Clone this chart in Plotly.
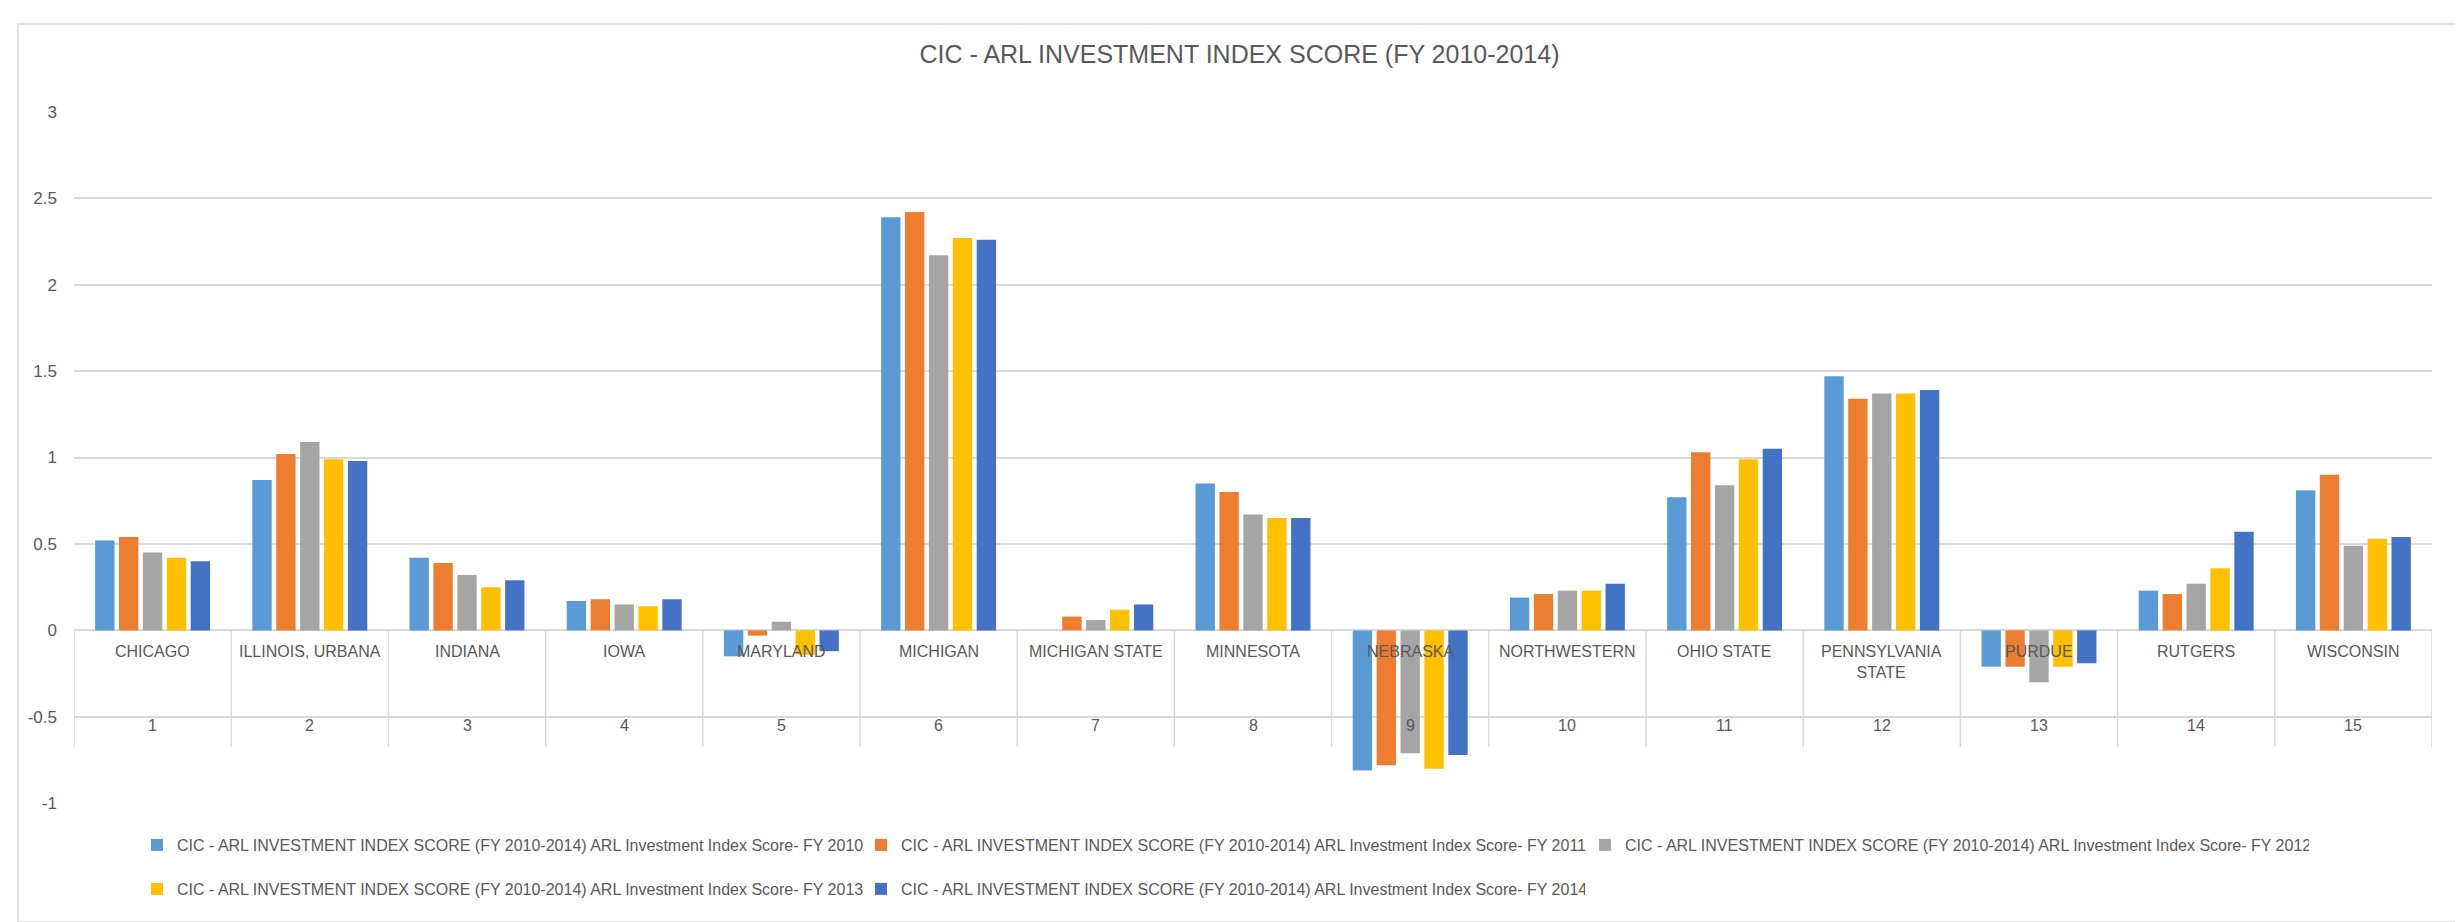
import plotly.graph_objects as go

FONT = "Liberation Sans, Arial, sans-serif"
TEXT_GREY = "#595959"
GRID = "#d9d9d9"

# --- data -----------------------------------------------------------------
schools = ["CHICAGO", "ILLINOIS, URBANA", "INDIANA", "IOWA", "MARYLAND", "MICHIGAN",
           "MICHIGAN STATE", "MINNESOTA", "NEBRASKA", "NORTHWESTERN", "OHIO STATE",
           "PENNSYLVANIA STATE", "PURDUE", "RUTGERS", "WISCONSIN"]
school_labels = ["CHICAGO", "ILLINOIS, URBANA", "INDIANA", "IOWA", "MARYLAND", "MICHIGAN",
                 "MICHIGAN STATE", "MINNESOTA", "NEBRASKA", "NORTHWESTERN", "OHIO STATE",
                 "PENNSYLVANIA<br>STATE", "PURDUE", "RUTGERS", "WISCONSIN"]
ranks = ["1", "2", "3", "4", "5", "6", "7", "8", "9", "10", "11", "12", "13", "14", "15"]

fy2010 = [0.52, 0.87, 0.42, 0.17, -0.15, 2.39, 0.00, 0.85, -0.81, 0.19, 0.77, 1.47, -0.21, 0.23, 0.81]
fy2011 = [0.54, 1.02, 0.39, 0.18, -0.03, 2.42, 0.08, 0.80, -0.78, 0.21, 1.03, 1.34, -0.21, 0.21, 0.90]
fy2012 = [0.45, 1.09, 0.32, 0.15, 0.05, 2.17, 0.06, 0.67, -0.71, 0.23, 0.84, 1.37, -0.30, 0.27, 0.49]
fy2013 = [0.42, 0.99, 0.25, 0.14, -0.14, 2.27, 0.12, 0.65, -0.80, 0.23, 0.99, 1.37, -0.21, 0.36, 0.53]
fy2014 = [0.40, 0.98, 0.29, 0.18, -0.12, 2.26, 0.15, 0.65, -0.72, 0.27, 1.05, 1.39, -0.19, 0.57, 0.54]

series_names = [
    "CIC - ARL INVESTMENT INDEX SCORE (FY 2010-2014) ARL Investment Index Score- FY 2010",
    "CIC - ARL INVESTMENT INDEX SCORE (FY 2010-2014) ARL Investment Index Score- FY 2011",
    "CIC - ARL INVESTMENT INDEX SCORE (FY 2010-2014) ARL Investment Index Score- FY 2012",
    "CIC - ARL INVESTMENT INDEX SCORE (FY 2010-2014) ARL Investment Index Score- FY 2013",
    "CIC - ARL INVESTMENT INDEX SCORE (FY 2010-2014) ARL Investment Index Score- FY 2014",
]
colors = ["#5b9bd5", "#ed7d31", "#a5a5a5", "#ffc000", "#4472c4"]

y_ticks = [-1, -0.5, 0, 0.5, 1, 1.5, 2, 2.5, 3]
y_tick_text = ["-1", "-0.5", "0", "0.5", "1", "1.5", "2", "2.5", "3"]

# --- page geometry (px) ---------------------------------------------------
W, H = 2463, 922
M_L, M_R, M_T, M_B = 66, 39, 103, 126
PLOT_W = W - M_L - M_R
PLOT_H = H - M_T - M_B


def px_x(px):
    return (px - M_L) / PLOT_W


def px_y(py):
    return (H - M_B - py) / PLOT_H


fig = go.Figure()
for i, (name, vals) in enumerate(zip(series_names, [fy2010, fy2011, fy2012, fy2013, fy2014])):
    fig.add_trace(go.Bar(
        x=schools, y=vals, name=name,
        marker=dict(color=colors[i], line=dict(width=0)),
        legend="legend" if i < 3 else "legend2",
    ))

# category "table" under the zero line
shapes = []
for i in range(len(schools) + 1):
    shapes.append(dict(type="line", xref="x", yref="y", x0=i - 0.5, x1=i - 0.5,
                       y0=0, y1=-0.675, line=dict(color=GRID, width=1.5), layer="below"))
# chart area border
shapes.append(dict(type="rect", xref="paper", yref="paper",
                   x0=px_x(10), x1=px_x(2453), y0=px_y(16), y1=px_y(914),
                   line=dict(color=GRID, width=1.5), layer="below"))

annotations = []
for s, lab, r in zip(schools, school_labels, ranks):
    annotations.append(dict(x=s, y=0, xref="x", yref="y", text=lab, showarrow=False,
                            yanchor="top", yshift=-11,
                            font=dict(family=FONT, size=16, color=TEXT_GREY)))
    annotations.append(dict(x=s, y=-0.5, xref="x", yref="y", text=r, showarrow=False,
                            yanchor="middle", yshift=-9,
                            font=dict(family=FONT, size=16, color=TEXT_GREY)))

legend_common = dict(
    orientation="h", xanchor="left", yanchor="middle", x=px_x(129),
    font=dict(family=FONT, size=16, color=TEXT_GREY),
    itemwidth=30, entrywidth=679, entrywidthmode="pixels",
    bgcolor="rgba(0,0,0,0)", itemclick=False,
)

fig.update_layout(
    width=W, height=H,
    margin=dict(l=M_L, r=M_R, t=M_T, b=M_B, autoexpand=False),
    paper_bgcolor="white", plot_bgcolor="white",
    title=dict(text="CIC - ARL INVESTMENT INDEX SCORE (FY 2010-2014)",
               x=0.5, xref="container", xanchor="center",
               y=1 - 46 / H, yref="container", yanchor="middle",
               font=dict(family=FONT, size=25, color=TEXT_GREY)),
    barmode="group", bargap=0.24, bargroupgap=0.19,
    xaxis=dict(type="category", range=[-0.5, len(schools) - 0.5],
               showticklabels=False, showgrid=False, zeroline=False, showline=False),
    yaxis=dict(range=[-1.004, 3.004], tickvals=y_ticks, ticktext=y_tick_text,
               showgrid=True, gridcolor=GRID, gridwidth=1.5,
               zeroline=True, zerolinecolor=GRID, zerolinewidth=1.5,
               showline=False, ticks="", ticklabelstandoff=16,
               tickfont=dict(family=FONT, size=17, color=TEXT_GREY)),
    legend=dict(legend_common, y=px_y(837)),
    legend2=dict(legend_common, y=px_y(881)),
    shapes=shapes,
    annotations=annotations,
    showlegend=True,
)

fig.write_html("out.html")
